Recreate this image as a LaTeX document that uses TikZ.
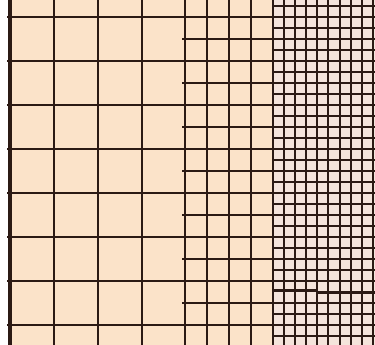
\documentclass[tikz,border=0pt]{standalone}
\definecolor{peach}{HTML}{FBE3C9}
\definecolor{finebg}{HTML}{F4E4DB}
\definecolor{gridline}{HTML}{2B1A14}
\tikzset{
  gline/.style={draw=gridline, line width=2.2pt},
  edgeline/.style={draw=gridline, line width=3.8pt},
}
\begin{document}
\begin{tikzpicture}[x=1pt,y=-1pt]
\useasboundingbox (0,0) rectangle (375,345);
\fill[white] (0,0) rectangle (375,345);
\fill[peach] (8,0) rectangle (375,345);
\fill[finebg] (273,0) rectangle (375,345);
% fine region
\foreach \k in {0,...,30} {
  \pgfmathsetmacro{\yy}{6+11*\k}
  \ifnum\k=26\relax
    \draw[gline] (273,290.5) -- (317,290.5);
    \draw[gline] (317,292.5) -- (375,292.5);
  \else
    \draw[gline] (273,\yy) -- (375,\yy);
  \fi
}
\foreach \xx in {284,295,306,317,328,340,351,362,373} {
  \draw[gline] (\xx,0) -- (\xx,345);
}
% medium region
\foreach \k in {0,...,14} {
  \pgfmathsetmacro{\yy}{17+22*\k}
  \draw[gline] (182,\yy) -- (273,\yy);
}
\foreach \xx in {207,229,251,273} {
  \draw[gline] (\xx,0) -- (\xx,345);
}
% coarse region
\foreach \k in {0,...,7} {
  \pgfmathsetmacro{\yy}{17+44*\k}
  \draw[gline] (7,\yy) -- (185,\yy);
}
\foreach \xx in {54,98,142,185} {
  \draw[gline] (\xx,0) -- (\xx,345);
}
\draw[edgeline] (10,0) -- (10,345);
\end{tikzpicture}
\end{document}
